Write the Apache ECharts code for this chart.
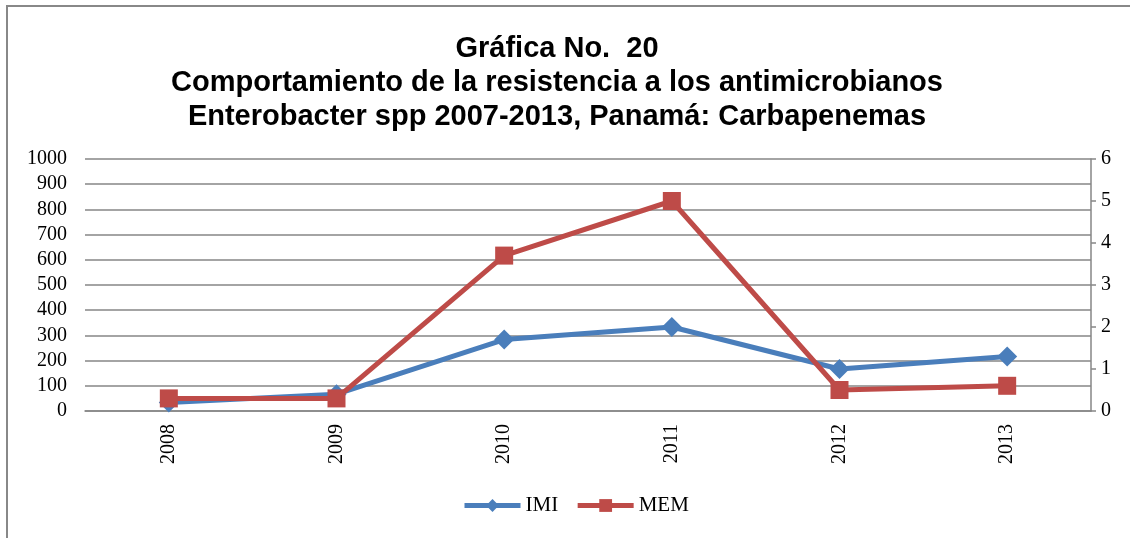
<!DOCTYPE html>
<html>
<head>
<meta charset="utf-8">
<script src="https://cdn.jsdelivr.net/npm/echarts@6/dist/echarts.min.js"></script>
<style>
    html, body { margin: 0; padding: 0; background: #fff; }
    #chart { width: 1130px; height: 538px; }
</style>
</head>
<body>
<div id="chart"></div>
<script>
    // datos (eje derecho)
    var years = ['2008', '2009', '2010', '2011', '2012', '2013']
    var imi = [0.2, 0.4, 1.7, 2.0, 1.0, 1.3]
    var mem = [0.3, 0.3, 3.7, 5.0, 0.5, 0.6]
    var titleLines = [
        'Gráfica No.  20',
        'Comportamiento de la resistencia a los antimicrobianos',
        'Enterobacter spp 2007-2013, Panamá: Carbapenemas'
    ]

    var serif = '"Liberation Serif", "Times New Roman", serif'
    var chart = echarts.init(document.getElementById('chart'))

    chart.setOption({
        backgroundColor: '#fff',
        animation: false,
        graphic: [{
            type: 'rect',
            shape: {x: 7, y: 6, width: 1200, height: 600},
            style: {fill: 'none', stroke: '#888', lineWidth: 2},
            silent: true
        }],
        title: {
            text: titleLines.join('\n'),
            left: 552,
            textAlign: 'center',
            top: 27,
            textStyle: {
                fontFamily: '"Liberation Sans", Arial, sans-serif',
                fontWeight: 'bold',
                fontSize: 29,
                lineHeight: 34,
                color: '#000'
            }
        },
        legend: {
            bottom: 17,
            left: 457,
            itemWidth: 56,
            itemHeight: 16,
            itemGap: 17,
            lineStyle: {width: 5},
            textStyle: {fontFamily: serif, fontSize: 21, color: '#000'},
            data: ['IMI', 'MEM']
        },
        grid: {left: 85, right: 39, top: 159, bottom: 127},
        xAxis: {
            type: 'category',
            data: years,
            axisLine: {lineStyle: {color: '#868686', width: 1.5}},
            axisTick: {show: false},
            axisLabel: {
                rotate: 90,
                fontFamily: serif,
                fontSize: 20,
                color: '#000',
                margin: 13
            }
        },
        yAxis: [{
            type: 'value',
            min: 0,
            max: 1000,
            interval: 100,
            axisLine: {show: false},
            axisTick: {show: false},
            splitLine: {lineStyle: {color: '#868686', width: 1.5}},
            axisLabel: {
                fontFamily: serif, fontSize: 20, color: '#000', margin: 18,
                formatter: function (v) { return String(v) }
            }
        }, {
            type: 'value',
            min: 0,
            max: 6,
            interval: 1,
            position: 'right',
            axisLine: {show: true, lineStyle: {color: '#868686', width: 1.5}},
            axisTick: {show: true, length: 5, lineStyle: {color: '#868686', width: 1.5}},
            splitLine: {show: false},
            axisLabel: {fontFamily: serif, fontSize: 20, color: '#000', margin: 10}
        }],
        series: [{
            name: 'IMI',
            type: 'line',
            yAxisIndex: 1,
            data: imi,
            symbol: 'diamond',
            symbolSize: 20,
            lineStyle: {color: '#4A7EBB', width: 5},
            itemStyle: {color: '#4A7EBB'}
        }, {
            name: 'MEM',
            type: 'line',
            yAxisIndex: 1,
            data: mem,
            symbol: 'rect',
            symbolSize: 18,
            lineStyle: {color: '#BE4B48', width: 5},
            itemStyle: {color: '#BE4B48'}
        }]
    })
</script>
</body>
</html>
